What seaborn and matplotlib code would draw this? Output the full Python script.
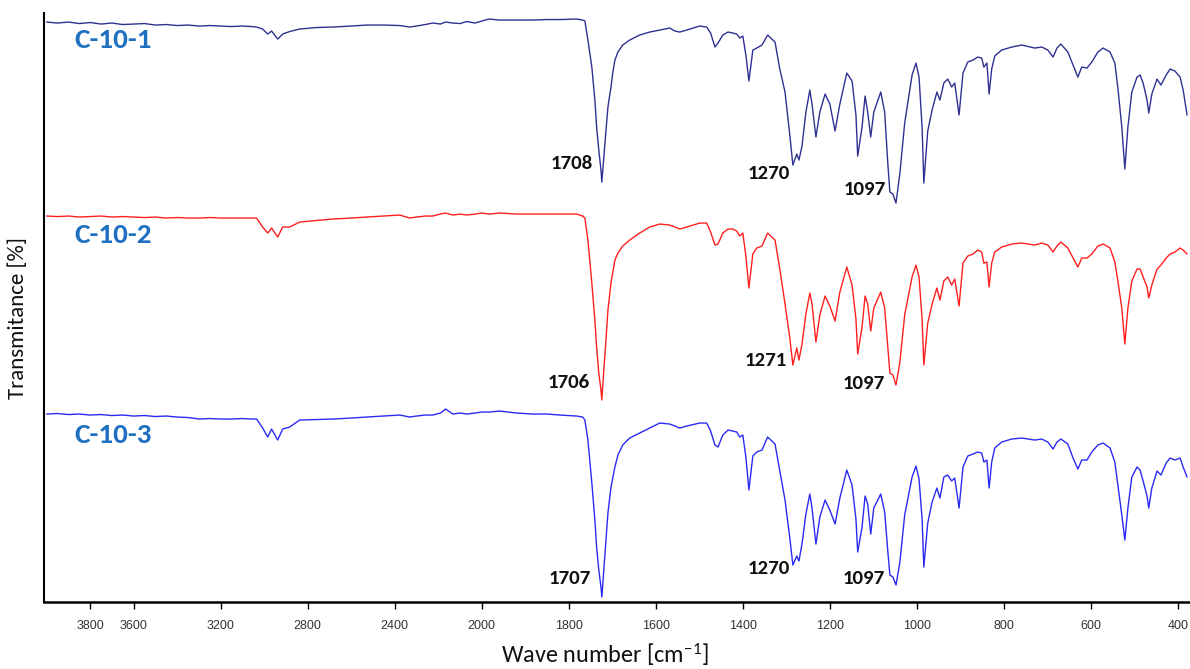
import numpy as np
import pandas as pd
import matplotlib
matplotlib.use("Agg")
import matplotlib.pyplot as plt
from matplotlib import font_manager
from matplotlib.ticker import FixedLocator, NullLocator
import seaborn as sns

# ---- FTIR spectra (wavenumber in cm^-1, transmittance in arbitrary units per sample) ----
wavenumber = [
    # 4000-1780: O-H / C-H stretch region (mostly flat)
    4000, 3950, 3900, 3850, 3800, 3750, 3700, 3650, 3600, 3550, 3500, 3450, 3400, 3350,
    3297, 3250, 3200, 3150, 3100, 3060, 3035, 3007, 2984, 2966, 2938, 2915, 2883, 2837,
    2760, 2685, 2600, 2529, 2450, 2377, 2331, 2300, 2260, 2225, 2190, 2166, 2133, 2100,
    2069, 2030, 2000, 1983, 1959, 1920, 1883, 1851, 1820, 1782,
    # carbonyl band and 1700-1390
    1768, 1763, 1756, 1747, 1740, 1736, 1731, 1726, 1724, 1720, 1715, 1710, 1703, 1699,
    1694, 1687, 1676, 1660, 1637, 1614, 1591, 1568, 1556, 1545, 1529, 1499, 1483, 1474,
    1464, 1457, 1446, 1434, 1423, 1414, 1407, 1400, 1393,
    # fingerprint region
    1386, 1377, 1368, 1356, 1343, 1326, 1315, 1303, 1292, 1285, 1276, 1271, 1264, 1255,
    1246, 1241, 1232, 1223, 1211, 1200, 1188, 1177, 1161, 1149, 1140, 1136, 1126, 1119,
    1113, 1106, 1099, 1083, 1074, 1067, 1062, 1055, 1048, 1039, 1028, 1011, 1002, 995,
    988, 984, 975, 965, 954, 947, 938, 929, 920, 913,
    # 900-380
    903, 894, 883, 871, 860, 851, 846, 839, 834, 828, 821, 805, 782, 759,
    729, 713, 699, 687, 678, 669, 653, 641, 630, 621, 609, 598, 584, 572,
    556, 545, 538, 529, 522, 515, 506, 494, 487, 480, 471, 467, 460, 448,
    439, 427, 418, 407, 395, 388, 379,
]

c10_1 = [
    188, 187, 188, 186.5, 187.5, 186, 187, 185.5, 186, 186.5, 185, 185.5, 184.5, 185,
    184, 184.5, 184, 183.5, 184, 183.5, 183, 181, 176, 179, 171, 176, 178.5, 181,
    182.5, 183, 184, 185, 185, 184.5, 183, 184, 185.5, 187, 186, 188, 187, 186.5,
    188.5, 187, 189, 191, 190, 190, 190, 190.5, 190.5, 191,
    190, 189, 170, 143, 110, 83, 60, 40, 28, 50, 77, 103, 123, 137,
    150, 158, 165, 170, 175, 178, 180, 182, 179, 178, 180, 184, 183, 177,
    163, 167, 175, 178, 177, 176, 172, 174, 155,
    129, 160, 162, 165, 175, 168, 141, 118, 75, 45, 56, 50, 64, 98,
    120, 106, 73, 98, 116, 106, 79, 106, 137, 129, 95, 54, 83, 114,
    98, 73, 98, 118, 98, 48, 18, 16, 7, 37, 87, 135, 147, 133,
    83, 27, 79, 100, 118, 110, 127, 131, 123, 127,
    95, 137, 148, 150, 153, 152, 143, 147, 116, 141, 154, 160, 163, 165,
    162, 163, 160, 153, 162, 166, 158, 145, 133, 143, 142, 148, 158, 162,
    158, 147, 122, 83, 41, 83, 118, 133, 135, 127, 110, 97, 116, 131,
    125, 135, 141, 139, 133, 120, 95,
]

c10_2 = [
    190, 189.5, 190, 189, 189.5, 190, 189, 189.5, 189, 188.5, 189, 188, 188.5, 188,
    188, 188.5, 188, 188, 188, 188, 188, 179, 173, 178, 169, 179, 179, 184,
    185.5, 187, 188, 189, 190, 191, 188, 189, 190, 190, 192, 193, 191, 192,
    191, 192, 193, 192, 193, 192, 192, 192, 192, 192,
    190, 188, 166, 123, 86, 59, 33, 16, 6, 33, 63, 96, 123, 133,
    146, 153, 160, 166, 173, 179, 182, 181, 179, 177, 179, 183, 183, 174,
    161, 162, 173, 177, 177, 175, 170, 173, 150,
    118, 152, 158, 160, 173, 166, 137, 102, 68, 41, 58, 46, 62, 92,
    113, 102, 64, 91, 110, 100, 85, 114, 139, 121, 87, 52, 79, 110,
    102, 75, 98, 114, 98, 60, 33, 31, 21, 44, 91, 129, 141, 129,
    87, 41, 83, 102, 118, 106, 125, 129, 121, 127,
    100, 143, 150, 152, 156, 154, 143, 144, 119, 143, 154, 159, 162, 163,
    161, 163, 161, 154, 160, 164, 158, 148, 139, 148, 148, 152, 160, 162,
    158, 144, 125, 98, 62, 98, 125, 137, 137, 129, 119, 108, 121, 137,
    141, 148, 152, 154, 158, 156, 152,
]

c10_3 = [
    188, 188.5, 187.5, 188, 187, 187.5, 186.5, 187, 186, 186.5, 185.5, 186, 185, 184.5,
    183, 183.5, 183, 183, 183.5, 183, 183, 174, 165, 173, 162, 173, 175, 182,
    182.5, 183, 184, 185, 186, 187, 185, 186, 187, 187, 189, 193, 188, 189,
    188, 189, 190, 190, 191, 189, 188, 188, 187, 186,
    185, 182, 162, 119, 82, 55, 32, 15, 5, 29, 59, 89, 115, 124,
    135, 147, 157, 164, 169, 174, 179, 178, 176, 174, 176, 179, 179, 171,
    157, 155, 167, 172, 171, 170, 165, 167, 145,
    112, 146, 150, 152, 165, 158, 131, 102, 64, 37, 46, 41, 58, 88,
    108, 94, 58, 85, 102, 92, 78, 104, 132, 117, 83, 50, 75, 106,
    98, 68, 94, 108, 90, 52, 27, 25, 17, 40, 87, 125, 136, 123,
    83, 35, 79, 100, 114, 104, 125, 127, 121, 124,
    94, 135, 146, 148, 150, 149, 140, 142, 114, 140, 154, 160, 163, 164,
    162, 163, 160, 153, 160, 163, 158, 144, 133, 142, 142, 150, 157, 159,
    154, 140, 117, 87, 62, 94, 125, 135, 132, 121, 106, 94, 114, 131,
    127, 139, 144, 142, 144, 135, 125,
]

sample_names = ["C-10-1", "C-10-2", "C-10-3"]
stack_offsets = [392, 196, 0]

# band assignments written next to each trace
peak_labels = [["1708", "1270", "1097"], ["1706", "1271", "1097"], ["1707", "1270", "1097"]]
peak_label_x = [[1745, 1292, 1071], [1752, 1299, 1074], [1749, 1292, 1074]]
peak_label_y = [[47, 37, 21], [24, 46, 23], [24, 34, 24]]
name_label_x = 3871
name_label_y = [170, 171, 167]

x_ticks = [3800, 3600, 3200, 2800, 2400, 2000, 1800, 1600, 1400, 1200, 1000, 800, 600, 400]

# ---- styling ----
line_colors = ["#2E3192", "#FF1F1F", "#2A2AF2"]
name_color = "#1F70C0"

sns.set_theme(style="white")
available = {f.name for f in font_manager.fontManager.ttflist}
text_font = "Carlito" if "Carlito" in available else "Lato"
k = 1.0 if text_font == "Carlito" else 0.87
plt.rcParams["font.family"] = [text_font, "DejaVu Sans"]
plt.rcParams["mathtext.fontset"] = "custom"
plt.rcParams["mathtext.rm"] = text_font
plt.rcParams["mathtext.default"] = "regular"

frames = []
for name, values, off in zip(sample_names, [c10_1, c10_2, c10_3], stack_offsets):
    frames.append(pd.DataFrame({
        "wavenumber": wavenumber,
        "signal": np.asarray(values, dtype=float) + off,
        "sample": name,
    }))
spectra = pd.concat(frames, ignore_index=True)

fig = plt.figure(figsize=(11.9, 6.69), dpi=100)
ax = fig.add_axes([0.037, 0.1001, 0.962, 0.8804])

sns.lineplot(data=spectra, x="wavenumber", y="signal", hue="sample",
             palette=dict(zip(sample_names, line_colors)), estimator=None,
             sort=False, linewidth=1.0, legend=False, ax=ax)


# wavenumber axis expanded by 2x below 2000 cm^-1
def fwd(x):
    x = np.asarray(x, dtype=float)
    return np.where(x <= 2000, x, 2000 + (x - 2000) / 2.0)


def inv(y):
    y = np.asarray(y, dtype=float)
    return np.where(y <= 2000, y, 2000 + (y - 2000) * 2.0)


ax.set_xscale("function", functions=(fwd, inv))
ax.set_xlim(4012, 375)
ax.set_ylim(0, 589)
ax.xaxis.set_major_locator(FixedLocator(x_ticks))
ax.xaxis.set_minor_locator(NullLocator())
ax.set_xticklabels([str(t) for t in x_ticks], fontfamily="Liberation Sans",
                   fontsize=9, color="#333333")
ax.set_yticks([])

ax.tick_params(axis="x", direction="out", length=5, width=1, color="black",
               pad=8, bottom=True)
for side in ["top", "right"]:
    ax.spines[side].set_visible(False)
ax.spines["bottom"].set_linewidth(1.8)
ax.spines["left"].set_linewidth(1.5)
ax.spines["bottom"].set_color("black")
ax.spines["left"].set_color("black")

ax.set_xlabel("Wave number [cm$^{-1}$]", fontsize=17.5 * k, color="#111111")
ax.xaxis.set_label_coords(0.49, -0.066)
ax.set_ylabel("Transmitance [%]", fontsize=16.5 * k, color="#111111")
ax.yaxis.set_label_coords(-0.014, 0.482)

for i, off in enumerate(stack_offsets):
    ax.text(name_label_x, name_label_y[i] + off, sample_names[i], color=name_color,
            fontsize=21 * k, fontweight="bold", ha="left", va="center")
    for lab, lx, ly in zip(peak_labels[i], peak_label_x[i], peak_label_y[i]):
        ax.text(lx, ly + off, lab, color="#111111", fontsize=15 * k,
                fontweight="bold", ha="right", va="center")

fig.savefig("out.png", dpi=100, facecolor="white")
